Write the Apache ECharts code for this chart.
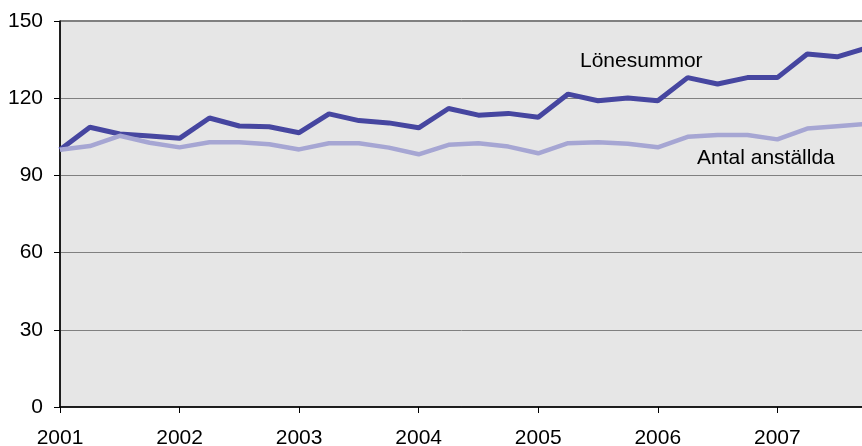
<!DOCTYPE html>
<html>
<head>
<meta charset="utf-8">
<script src="https://cdn.jsdelivr.net/npm/echarts@6/dist/echarts.min.js"></script>
<style>
html,body{margin:0;padding:0;background:#fff;}
#chart{width:862px;height:446px;}
</style>
</head>
<body>
<div id="chart"></div>
<script>
var years = ["2001","2002","2003","2004","2005","2006","2007"];
var quarters = ["K1","K2","K3","K4"];
var lonesummor = [100,108.7,106.1,105.3, 104.4,112.3,109.2,108.9, 106.6,113.9,111.3,110.4, 108.5,116.0,113.4,114.1, 112.6,121.6,119.0,120.1, 119.0,128.0,125.5,128.0, 128.0,137.2,136.1,139.6];
var antal = [100,101.4,105.4,102.7, 100.9,102.9,102.9,102.1, 100.1,102.5,102.5,100.8, 98.2,101.9,102.5,101.2, 98.6,102.5,102.9,102.3, 100.9,105.0,105.7,105.7, 104.0,108.2,109.1,110.0];
var yTicks = [0,30,60,90,120,150];

var categories = [];
years.forEach(function(y){ quarters.forEach(function(q){ categories.push(y + " " + q); }); });

var chart = echarts.init(document.getElementById('chart'));
var font = '"Liberation Sans", Arial, sans-serif';
chart.setOption({
  animation: false,
  backgroundColor: '#ffffff',
  grid: {left: 60, top: 21, width: 807, bottom: 39, containLabel: false, outerBoundsMode: 'none',
    show: true, backgroundColor: '#E6E6E6', borderColor: '#000', borderWidth: 1},
  xAxis: {
    type: 'category', data: categories, boundaryGap: false,
    axisLine: {lineStyle: {color: '#000', width: 1.5}},
    axisTick: {show: true, interval: 3, length: 6, inside: false, lineStyle: {color: '#000'}},
    axisLabel: {interval: 3, margin: 21, color: '#000', fontSize: 21, fontFamily: font,
      formatter: function(v){ return v.split(' ')[0]; }},
    splitLine: {show: false}
  },
  yAxis: {
    type: 'value', min: yTicks[0], max: yTicks[yTicks.length-1], interval: 30,
    axisLine: {show: true, lineStyle: {color: '#000', width: 1.5}},
    axisTick: {show: true, length: 6, lineStyle: {color: '#000'}},
    axisLabel: {margin: 17, color: '#000', fontSize: 21, fontFamily: font},
    splitLine: {show: true, lineStyle: {color: '#808080', width: 1}}
  },
  series: [
    {name: 'Lönesummor', type: 'line', data: lonesummor, symbol: 'none', lineStyle: {color: '#4646A0', width: 5}, z: 3},
    {name: 'Antal anställda', type: 'line', data: antal, symbol: 'none', lineStyle: {color: '#A6A6D3', width: 4.5}, z: 4}
  ],
  graphic: [
    {type: 'text', left: 580, top: 51, z: 10, style: {text: 'Lönesummor', fill: '#000', font: '21px ' + font}},
    {type: 'text', left: 697, top: 148, z: 10, style: {text: 'Antal anställda', fill: '#000', font: '21px ' + font}}
  ]
});
</script>
</body>
</html>
